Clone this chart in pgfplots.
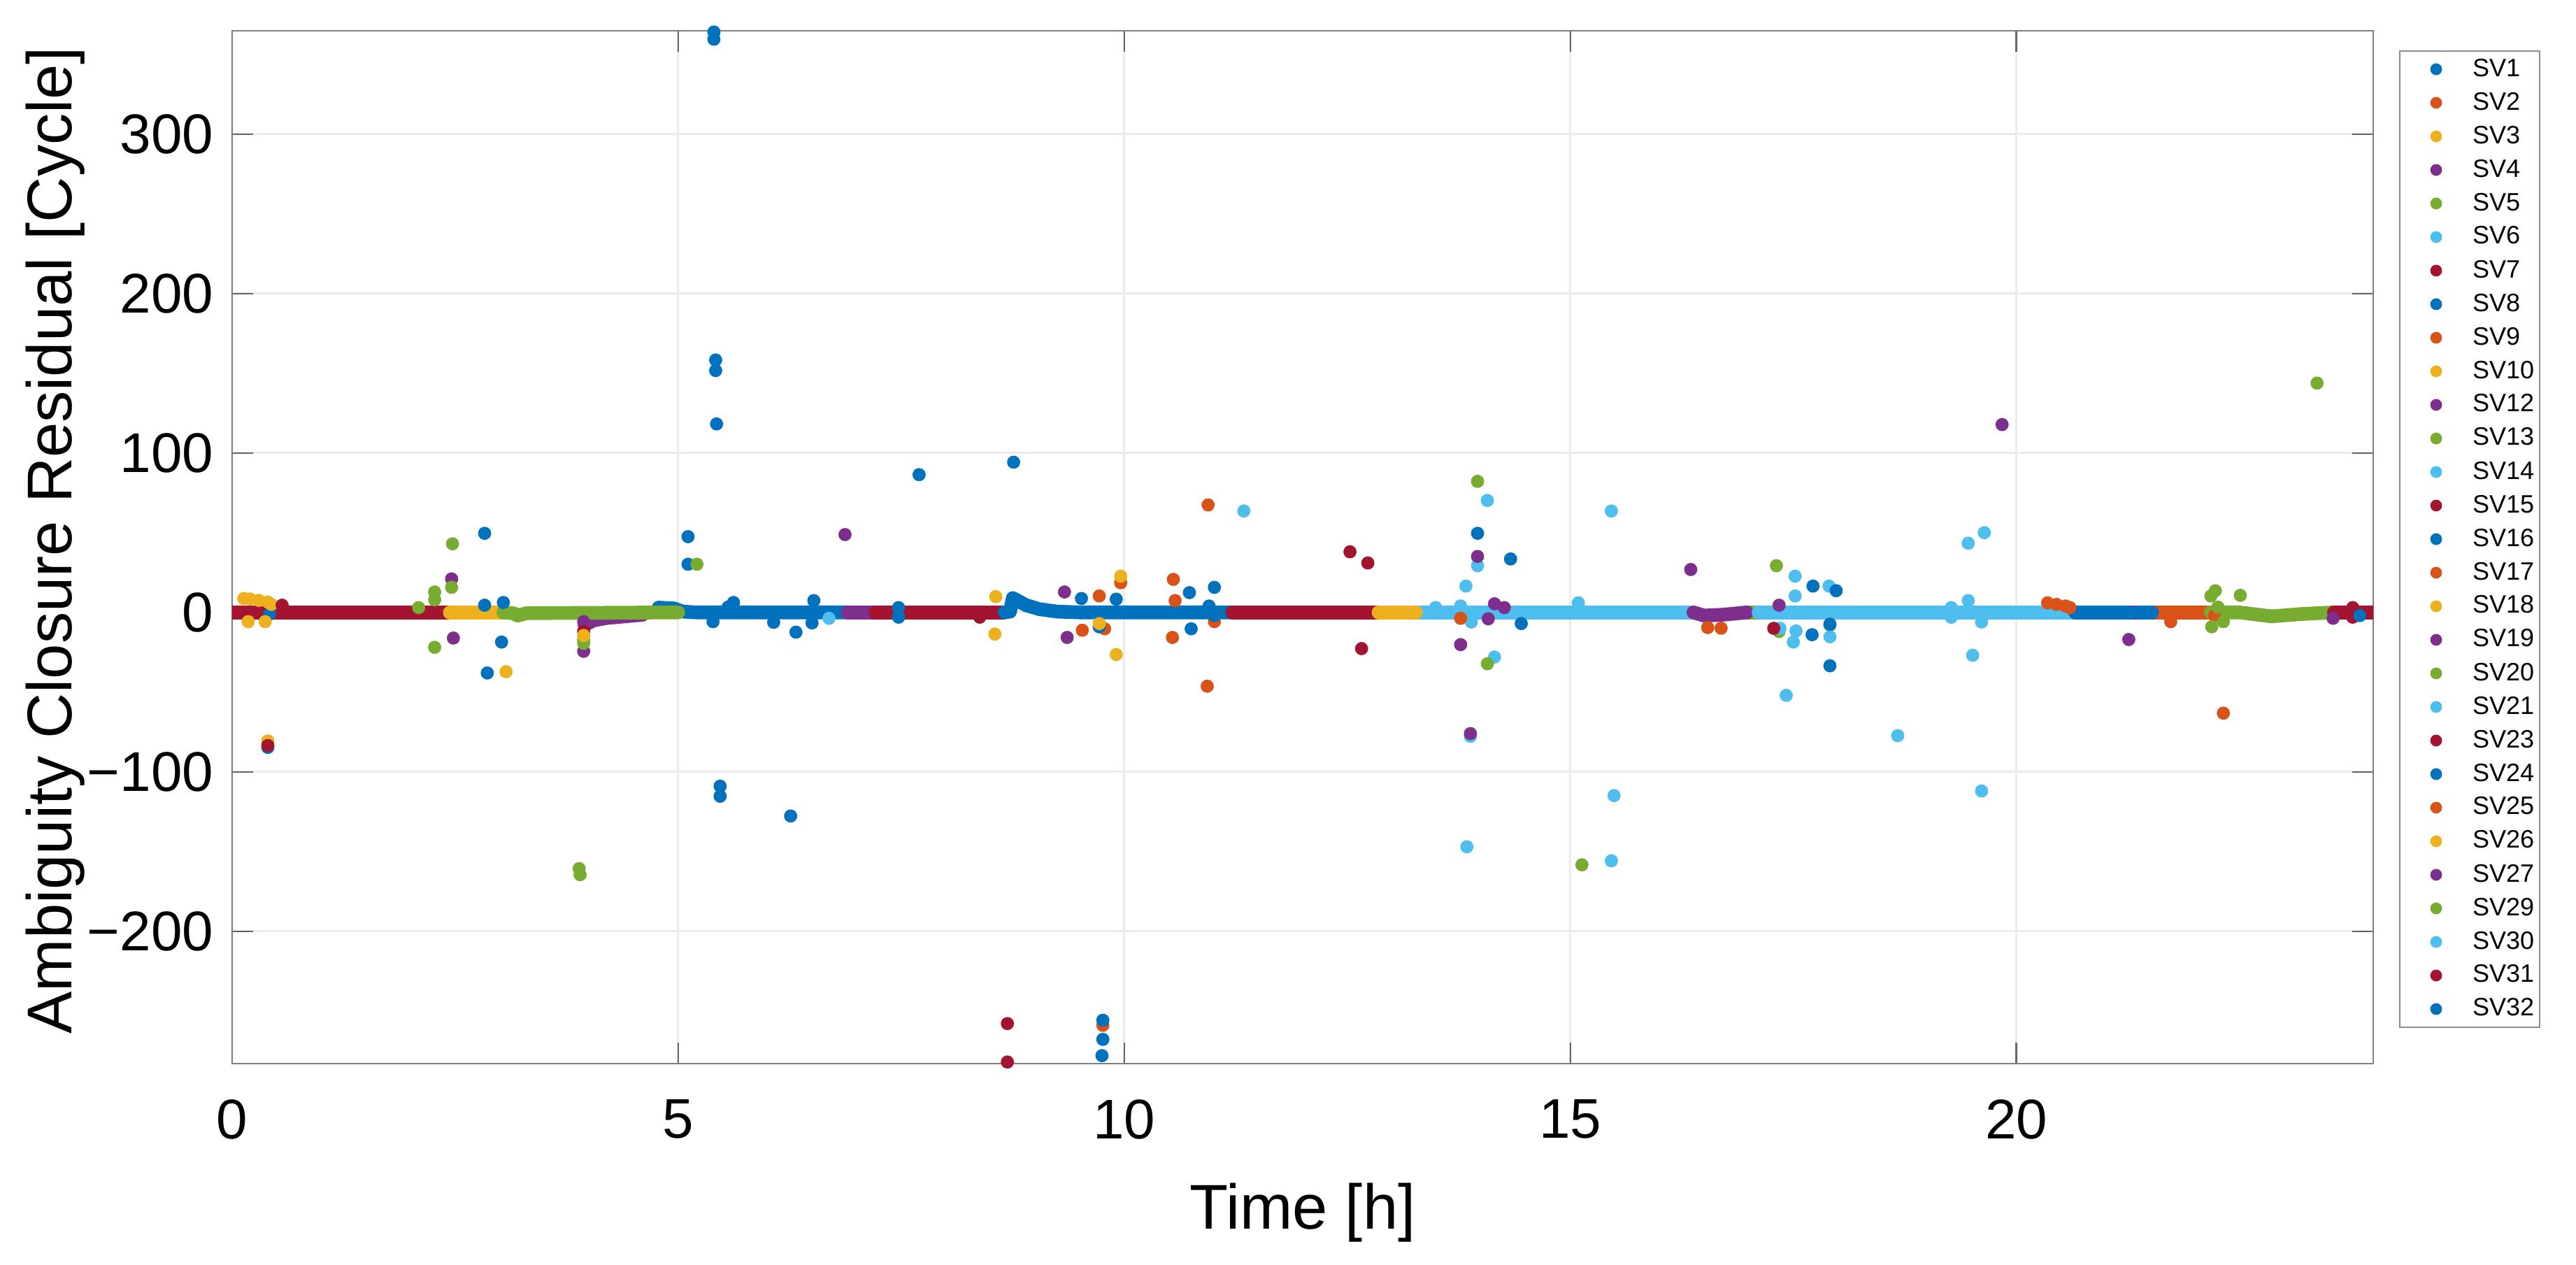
\documentclass[border=0pt]{standalone}
\usepackage{pgfplots}
\pgfplotsset{compat=1.18}
\usepackage{fontspec}
\setmainfont{Liberation Sans}

% MATLAB default colour order
\definecolor{mblue}{RGB}{0,114,189}
\definecolor{morange}{RGB}{217,83,25}
\definecolor{myellow}{RGB}{237,177,32}
\definecolor{mpurple}{RGB}{126,47,142}
\definecolor{mgreen}{RGB}{119,172,48}
\definecolor{mcyan}{RGB}{77,190,238}
\definecolor{mred}{RGB}{162,20,47}

\pgfplotsset{
  band/.style={forget plot, no markers, line width=4.9pt, line cap=round, line join=round},
  dots/.style={only marks, mark=*, mark size=2.15pt},
}

\begin{document}
\begin{tikzpicture}
\begin{axis}[
  scale only axis, width=765.5pt, height=369.25pt,
  xmin=0, xmax=24, ymin=-283, ymax=364.8,
  xtick={0,5,10,15,20}, xticklabels={0,5,10,15,20},
  ytick={-200,-100,0,100,200,300},
  yticklabels={−200,−100,0,100,200,300},
  tick label style={font=\fontsize{20}{24}\selectfont},
  xticklabel style={inner sep=0pt, yshift=-12.75pt},
  yticklabel style={inner sep=0pt, xshift=-6.5pt},
  label style={font=\fontsize{22.6}{26}\selectfont},
  xlabel={Time [h]},
  ylabel={Ambiguity Closure Residual [Cycle]},
  xlabel style={at={(axis description cs:0.5,0)}, anchor=north, inner sep=0pt, yshift=-42.5pt},
  ylabel style={at={([xshift=-57.25pt,yshift=2.5pt]axis description cs:0,0.5)}, rotate=0, anchor=base},
  tick align=inside, major tick length=7.5pt,
  tick style={black!60, line width=0.6pt},
  grid=major, major grid style={black!8, line width=0.75pt},
  axis line style={black!50, line width=0.6pt},
  legend cell align=left,
  legend style={at={(1,1)}, anchor=north west, xshift=9.25pt, yshift=-7pt,
    font=\fontsize{9}{10}\selectfont, draw=black!45, line width=0.5pt,
    inner xsep=2pt, inner ysep=2pt, row sep=3pt, column sep=2pt,
    nodes={inner sep=0pt, text height=7pt, text depth=2pt}},
  legend image code/.code={\path[draw=none, fill=none] (0pt,-3pt) rectangle (22pt,3pt);
    \draw[#1] plot coordinates {(11pt,0pt)};},
  legend image post style={mark size=1.85pt},
]

% SV1
\addplot[mblue, dots] coordinates {(0.40,-84.7)(0.42,-1.0)(2.83,49.6)(2.83,4.5)(3.04,6.2)(3.02,-18.6)(2.86,-38.0)};
\addlegendentry{SV1}
% SV2
\addplot[morange, dots] coordinates {(9.53,-11.2)(9.72,10.3)(9.72,-9.0)(9.78,-10.3)(9.96,18.6)(9.76,-259.0)};
\addlegendentry{SV2}
% SV3
\addplot[myellow, dots] coordinates {(0.13,8.7)(0.20,8.4)(0.30,7.5)(0.40,6.5)(0.44,5.0)(0.18,-5.8)(0.37,-5.8)(0.40,-80.6)};
\addlegendentry{SV3}
% SV4
\addplot[mpurple, band] coordinates {(3.95,-8.0)(4.05,-5.0)(4.20,-3.5)(4.40,-2.5)(4.60,-1.5)};
\addplot[mpurple, dots] coordinates {(2.46,21.0)(2.48,-16.1)(3.94,-24.4)(3.94,-5.8)};
\addlegendentry{SV4}
% SV5
\addplot[mgreen, dots] coordinates {(2.09,3.0)(2.27,12.8)(2.27,7.9)(2.27,-21.9)(2.47,43.0)(2.46,15.7)(3.94,-17.4)(3.94,-19.4)(3.89,-160.7)(3.90,-164.5)};
\addlegendentry{SV5}
% SV6
\addplot[mcyan, dots] coordinates {(6.69,-3.7)(11.34,63.6)};
\addlegendentry{SV6}
% SV7
\addplot[mred, band] coordinates {(0,0)(2.44,0)};
\addplot[mred, dots] coordinates {(0.56,4.5)(0.40,-83.5)(3.94,-12.0)};
\addlegendentry{SV7}
% SV8
\addplot[mblue, band] coordinates {(4.78,3.0)(4.95,2.5)(5.05,0.5)(5.20,0)(6.90,0)};
\addplot[mblue, dots] coordinates {(5.40,364.0)(5.40,359.5)(5.42,158.3)(5.42,151.7)(5.43,118.2)(5.11,47.5)(5.11,30.2)(5.47,-109.0)(5.47,-115.3)(6.26,-127.7)(5.39,-5.8)(6.07,-6.2)(6.32,-12.4)(6.50,-6.6)(6.52,7.4)(5.62,6.2)(5.56,3.3)(7.47,3.0)(7.47,-3.0)(7.70,86.4)};
\addlegendentry{SV8}
% SV9
\addplot[morange, dots] coordinates {(10.55,20.7)(10.57,7.4)(10.54,-15.7)(10.94,67.4)(10.93,-46.3)(11.01,-5.8)};
\addlegendentry{SV9}
% SV10
\addplot[myellow, band] coordinates {(2.44,0)(3.04,0)};
\addplot[myellow, dots] coordinates {(3.07,-37.2)(3.94,-14.5)};
\addlegendentry{SV10}
% SV12
\addplot[mpurple, band] coordinates {(6.90,0)(7.21,0)};
\addplot[mpurple, dots] coordinates {(6.87,48.8)(9.33,12.8)(9.36,-15.7)};
\addlegendentry{SV12}
% SV13
\addplot[mgreen, band] coordinates {(3.04,0)(3.15,-0.5)(3.20,-2.0)(3.30,-0.5)(5.00,0)};
\addplot[mgreen, dots] coordinates {(5.21,30.2)};
\addlegendentry{SV13}
% SV14
\addplot[mcyan, band] coordinates {(13.27,0)(16.38,0)};
\addplot[mcyan, dots] coordinates {(13.49,3.0)(13.77,4.0)(13.83,16.5)(13.89,-6.0)(13.96,29.3)(14.07,70.2)(14.15,-28.0)(13.88,-77.7)(13.84,-147.0)(15.09,6.0)(15.46,63.6)(15.49,-114.9)(15.46,-155.8)};
\addlegendentry{SV14}
% SV15
\addplot[mred, band] coordinates {(7.21,0)(8.65,0)};
\addplot[mred, dots] coordinates {(8.38,-3.0)(8.69,-257.9)(8.69,-282.0)};
\addlegendentry{SV15}
% SV16
\addplot[mblue, band] coordinates {(8.66,0)(8.72,0.5)(8.75,9.0)(8.80,7.5)(8.90,4.5)(9.05,2.0)(9.25,0.5)(9.50,0)(11.21,0)};
\addplot[mblue, dots] coordinates {(8.76,94.2)(9.52,8.7)(9.72,-9.0)(9.91,8.3)(10.73,12.4)(10.75,-10.3)(11.01,15.7)(10.95,4.0)(11.01,-2.0)(9.76,-255.8)(9.76,-267.8)(9.75,-278.0)};
\addlegendentry{SV16}
% SV17
\addplot[morange, dots] coordinates {(13.77,-3.7)(16.54,-9.5)(16.69,-9.9)(20.35,6.0)(20.45,5.0)(20.55,4.0)(20.60,3.0)};
\addlegendentry{SV17}
% SV18
\addplot[myellow, dots] coordinates {(8.56,9.9)(8.55,-13.6)(9.72,-7.0)(9.91,-26.4)(9.96,22.7)};
\addlegendentry{SV18}
% SV19
\addplot[mpurple, band] coordinates {(21.27,0)(21.37,0)};
\addplot[mpurple, dots] coordinates {(13.96,35.1)(14.15,5.4)(14.26,3.0)(14.08,-4.0)(13.77,-20.2)(13.88,-76.0)(21.26,-17.0)};
\addlegendentry{SV19}
% SV20
\addplot[mgreen, band] coordinates {(16.98,0)(17.11,0)};
\addplot[mgreen, dots] coordinates {(13.96,82.2)(14.07,-32.2)(15.13,-158.3)(17.31,29.3)(17.34,-12.0)(17.91,-8.0)};
\addlegendentry{SV20}
% SV21
\addplot[mcyan, dots] coordinates {(17.52,22.7)(17.52,10.3)(17.90,16.5)(17.53,-11.6)(17.50,-18.6)(17.91,-15.3)(17.42,-52.0)(17.35,-10.0)(18.67,-77.3)};
\addlegendentry{SV21}
% SV23
\addplot[mred, band] coordinates {(11.21,0)(12.85,0)};
\addplot[mred, dots] coordinates {(12.53,38.0)(12.73,31.0)(12.66,-22.7)(17.28,-10.0)};
\addlegendentry{SV23}
% SV24
\addplot[mblue, dots] coordinates {(13.96,49.6)(14.33,33.5)(14.45,-7.0)(17.72,16.5)(17.98,13.6)(17.71,-14.0)(17.91,-7.4)(17.91,-33.5)};
\addlegendentry{SV24}
% SV25
\addplot[morange, band] coordinates {(21.52,0)(22.18,0)};
\addplot[morange, dots] coordinates {(21.73,-5.8)(22.32,-63.2)(22.22,-2.0)};
\addlegendentry{SV25}
% SV26
\addplot[myellow, band] coordinates {(12.85,0)(13.27,0)};
\addplot[myellow, dots] coordinates {(12.85,0)(13.27,0)};
\addlegendentry{SV26}
% SV27
\addplot[mpurple, band] coordinates {(16.38,0)(16.50,-2.0)(16.70,-1.5)(16.98,0)};
\addplot[mpurple, dots] coordinates {(16.35,26.9)(17.34,4.5)(19.84,117.8)(23.55,-3.7)};
\addlegendentry{SV27}
% SV29
\addplot[mgreen, band] coordinates {(22.18,0)(22.50,0)(22.86,-2.5)(23.20,-1.0)(23.56,0)};
\addplot[mgreen, dots] coordinates {(22.23,13.6)(22.18,10.3)(22.19,-9.0)(22.32,-5.8)(22.26,3.3)(22.51,10.7)(23.37,143.8)};
\addlegendentry{SV29}
% SV30
\addplot[mcyan, band] coordinates {(17.11,0)(20.66,0)};
\addplot[mcyan, dots] coordinates {(19.46,43.4)(19.64,50.0)(19.46,7.4)(19.61,-6.0)(19.27,-3.0)(19.27,3.0)(19.51,-26.9)(19.61,-112.0)};
\addlegendentry{SV30}
% SV31
\addplot[mred, band] coordinates {(23.56,0)(24,0)};
\addplot[mred, dots] coordinates {(23.77,3.0)(23.77,-3.0)};
\addlegendentry{SV31}
% SV32
\addplot[mblue, band] coordinates {(20.66,0)(21.27,0)};
\addplot[mblue, band] coordinates {(21.37,0)(21.52,0)};
\addplot[mblue, dots] coordinates {(23.85,-2.0)};
\addlegendentry{SV32}

\end{axis}
\pgfresetboundingbox
\path ([shift={(-83pt,-72pt)}]current axis.south west) rectangle ([shift={(72.5pt,11pt)}]current axis.north east);
\end{tikzpicture}
\end{document}
